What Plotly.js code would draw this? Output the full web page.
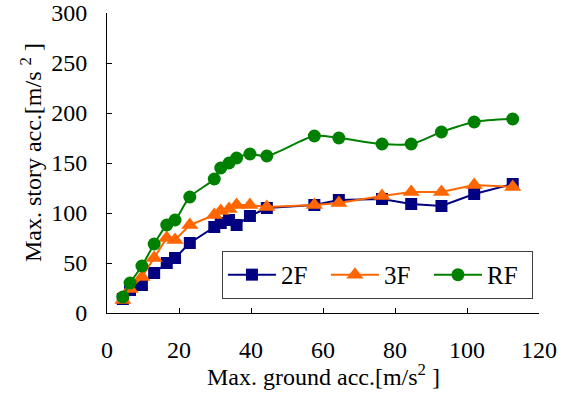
<!DOCTYPE html>
<html>
<head>
<meta charset="utf-8">
<script src="https://cdn.plot.ly/plotly-3.0.1.min.js"></script>
<style>html,body{margin:0;padding:0;background:#fff}#chart{width:567px;height:395px}</style>
</head>
<body>
<div id="chart"></div>
<script>
var groundAcc = [4.4, 6.4, 9.7, 13.1, 16.6, 18.9, 23, 29.8, 31.6, 33.9, 36, 39.7, 44.4, 57.6, 64.4, 76.4, 84.5, 92.9, 102, 112.7];
var acc2F = [14, 23, 28, 40, 50, 55, 70, 86, 90, 93, 88, 97, 105, 108, 113, 114, 109, 107, 119, 129];
var acc3F = [13, 24, 36, 55, 75, 73, 88, 98, 102, 104, 108, 108, 106, 108, 110, 117, 121, 121, 128, 126];
var accRF = [16, 30, 47, 69, 88, 93, 116, 134, 145, 150, 155, 159, 157, 177, 175, 169, 169, 181, 191, 194];
var seriesNames = ['2F', '3F', 'RF'];
var xTitle = 'Max. ground acc.[m/s<sup>2</sup> ]';
var yTitle = 'Max. story acc.[m/s <sup>2</sup> ]';

var font = 'Liberation Serif, Times New Roman, serif';
var traces = [
  {x: groundAcc, y: acc2F, name: seriesNames[0], mode: 'lines+markers',
   line: {color: '#000080', width: 2}, marker: {symbol: 'square', size: 12, color: '#000080'}},
  {x: groundAcc, y: acc3F, name: seriesNames[1], mode: 'lines+markers',
   line: {color: '#FF6600', width: 2}, marker: {symbol: 'triangle-up', size: 15, color: '#FF6600'}},
  {x: groundAcc, y: accRF, name: seriesNames[2], mode: 'lines+markers',
   line: {color: '#008000', width: 2, shape: 'spline', smoothing: 0.8}, marker: {symbol: 'circle', size: 13, color: '#008000'}}
];
var layout = {
  width: 567, height: 395,
  margin: {l: 107, r: 28, t: 13, b: 82},
  paper_bgcolor: '#fff', plot_bgcolor: '#fff',
  font: {family: font, size: 24, color: '#000'},
  showlegend: true,
  legend: {orientation: 'h', x: 0.986, xanchor: 'right', y: 0.047, yanchor: 'bottom',
           bordercolor: '#404040', borderwidth: 1, bgcolor: '#fff',
           itemwidth: 48, entrywidth: 40, entrywidthmode: 'pixels',
           font: {family: font, size: 25, color: '#000'}},
  xaxis: {range: [0, 120], dtick: 20, tick0: 0, showgrid: false, zeroline: false,
          showline: true, linecolor: '#000', linewidth: 1, ticks: 'inside', ticklen: 5,
          tickcolor: '#000', ticklabelstandoff: 15, tickfont: {family: font, size: 24}},
  yaxis: {range: [0, 300], dtick: 50, tick0: 0, showgrid: false, zeroline: false,
          showline: true, linecolor: '#000', linewidth: 1, ticks: 'inside', ticklen: 5,
          tickcolor: '#000', ticklabelstandoff: 14, tickfont: {family: font, size: 24}},
  annotations: [
    {text: yTitle, textangle: -90, xref: 'paper', yref: 'paper',
     x: -0.1759, y: 0.533, xanchor: 'center', yanchor: 'middle', showarrow: false,
     font: {family: font, size: 24, color: '#000'}},
    {text: xTitle, xref: 'paper', yref: 'paper',
     x: 0.5, y: -0.2067, xanchor: 'center', yanchor: 'middle', showarrow: false,
     font: {family: font, size: 24, color: '#000'}}
  ]
};
Plotly.newPlot('chart', traces, layout, {displayModeBar: false, staticPlot: true});
</script>
</body>
</html>
